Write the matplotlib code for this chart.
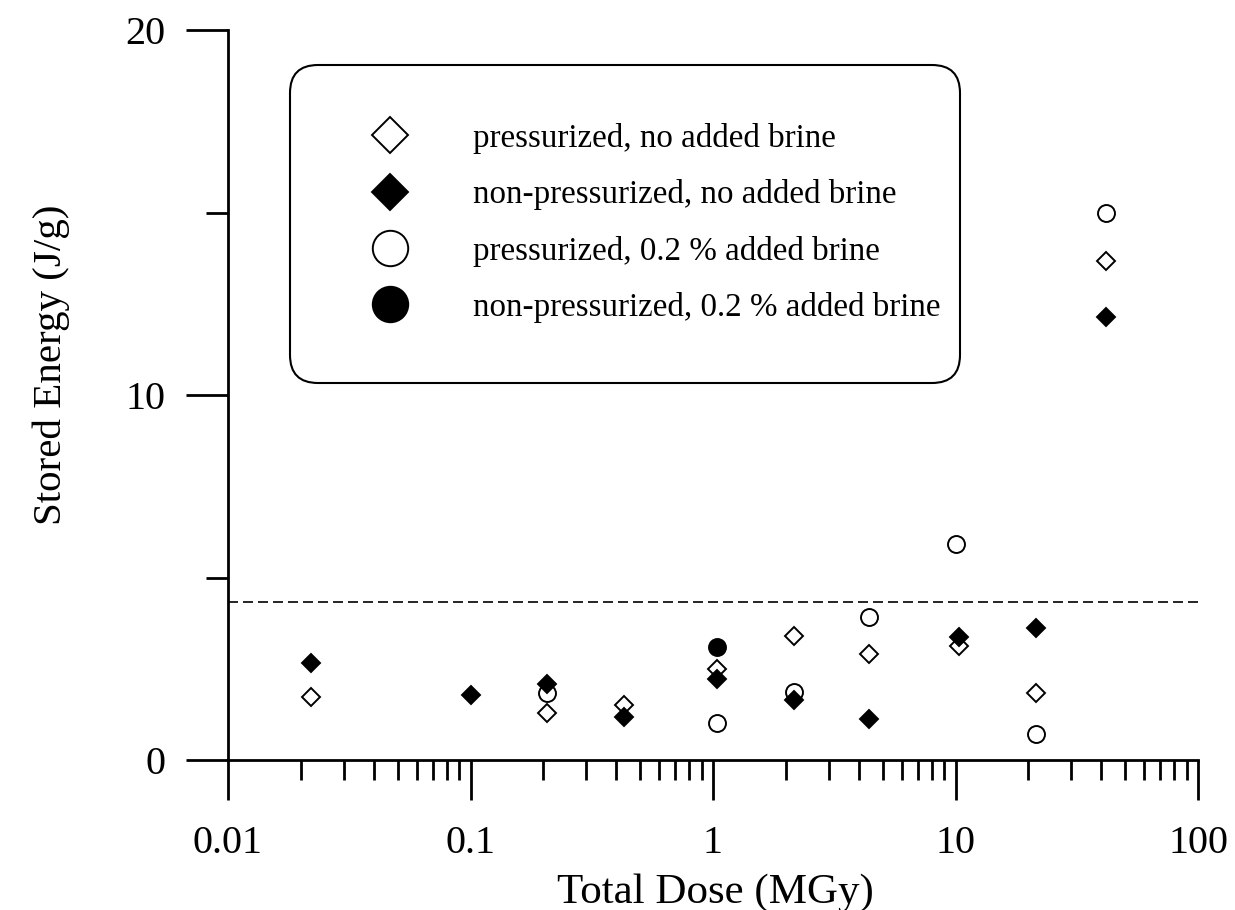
import numpy as np
import matplotlib.pyplot as plt
from matplotlib.patches import FancyBboxPatch
from matplotlib.ticker import FixedLocator, LogLocator, NullFormatter, FixedFormatter

plt.rcParams['font.family'] = ['Liberation Serif', 'DejaVu Serif']

# pressurized, no added brine
dose_p_nb = [0.022, 0.206, 0.428, 1.04, 2.15, 4.38, 10.3, 21.5, 41.9]
energy_p_nb = [1.73, 1.29, 1.51, 2.49, 3.40, 2.90, 3.12, 1.84, 13.67]

# non-pressurized, no added brine
dose_np_nb = [0.022, 0.1, 0.206, 0.428, 1.04, 2.15, 4.38, 10.3, 21.5, 41.9]
energy_np_nb = [2.66, 1.78, 2.08, 1.18, 2.22, 1.64, 1.12, 3.37, 3.62, 12.14]

# pressurized, 0.2 % added brine
dose_p_b = [0.206, 1.04, 2.15, 4.38, 10.0, 21.5, 41.9]
energy_p_b = [1.84, 1.01, 1.86, 3.92, 5.92, 0.71, 14.99]

# non-pressurized, 0.2 % added brine
dose_np_b = [1.04]
energy_np_b = [3.10]

limite = 4.33

fig = plt.figure(figsize=(12.35, 9.10), dpi=100)
ax = fig.add_axes([228/1235, 150/910, 970/1235, 730/910])

ms_d = 8.7
ms_o = 12.2
lw = 1.4

ax.plot([0.01, 100], [limite, limite], ls=(0, (6, 3)), color='black', lw=1.2)

ax.plot(dose_p_nb, energy_p_nb, 'D', ms=ms_d, mfc='white', mec='black', mew=lw,
        ls='none', label='pressurized, no added brine', zorder=3)
ax.plot(dose_np_nb, energy_np_nb, 'D', ms=ms_d, mfc='black', mec='black', mew=lw,
        ls='none', label='non-pressurized, no added brine', zorder=5)
ax.plot(dose_p_b, energy_p_b, 'o', ms=ms_o, mfc='white', mec='black', mew=lw,
        ls='none', label='pressurized, 0.2 % added brine', zorder=4)
ax.plot(dose_np_b, energy_np_b, 'o', ms=ms_o, mfc='black', mec='black', mew=lw,
        ls='none', label='non-pressurized, 0.2 % added brine', zorder=6)

ax.set_xscale('log')
ax.set_xlim(0.01, 100)
ax.set_ylim(0, 20)

ax.spines['top'].set_visible(False)
ax.spines['right'].set_visible(False)
ax.spines['left'].set_linewidth(2.0)
ax.spines['bottom'].set_linewidth(2.0)

ax.xaxis.set_major_locator(FixedLocator([0.01, 0.1, 1, 10, 100]))
ax.xaxis.set_major_formatter(FixedFormatter(['0.01', '0.1', '1', '10', '100']))
ax.xaxis.set_minor_locator(LogLocator(base=10, subs=np.arange(2, 10)))
ax.xaxis.set_minor_formatter(NullFormatter())
ax.yaxis.set_major_locator(FixedLocator([0, 10, 20]))
ax.yaxis.set_minor_locator(FixedLocator([5, 15]))

ax.tick_params(axis='x', which='major', direction='out', length=29, width=2.0,
               pad=18, labelsize=29)
ax.tick_params(axis='x', which='minor', direction='out', length=14.5, width=2.0)
ax.tick_params(axis='y', which='major', direction='out', length=30, width=2.0,
               pad=15, labelsize=29)
ax.tick_params(axis='y', which='minor', direction='out', length=16, width=2.0)

ax.set_xlabel('Total Dose (MGy)', fontsize=31)
ax.xaxis.set_label_coords(0.502, -0.155)
ax.set_ylabel('Stored Energy (J/g)', fontsize=29.5)
ax.yaxis.set_label_coords(-0.163, 0.541)

# caixa arredondada da legenda
caixa = FancyBboxPatch((2.90, 5.27), 6.70, 3.18,
                       boxstyle='round,pad=0,rounding_size=0.28',
                       transform=fig.dpi_scale_trans, facecolor='white',
                       edgecolor='black', lw=1.5, zorder=7, clip_on=False)
ax.add_patch(caixa)

leg = ax.legend(loc='upper left', bbox_to_anchor=(350/1235, 1 - 123/910),
                bbox_transform=fig.transFigure, frameon=False, fontsize=23.8,
                borderpad=0, borderaxespad=0, handlelength=2.42,
                handletextpad=1.30, labelspacing=0.765)
leg.set_zorder(10)
# marcadores maiores na legenda
for h, tam in zip(leg.legend_handles, [18.3, 18.3, 25.5, 25.5]):
    h.set_markersize(tam)

fig.savefig('out.png', dpi=100)
